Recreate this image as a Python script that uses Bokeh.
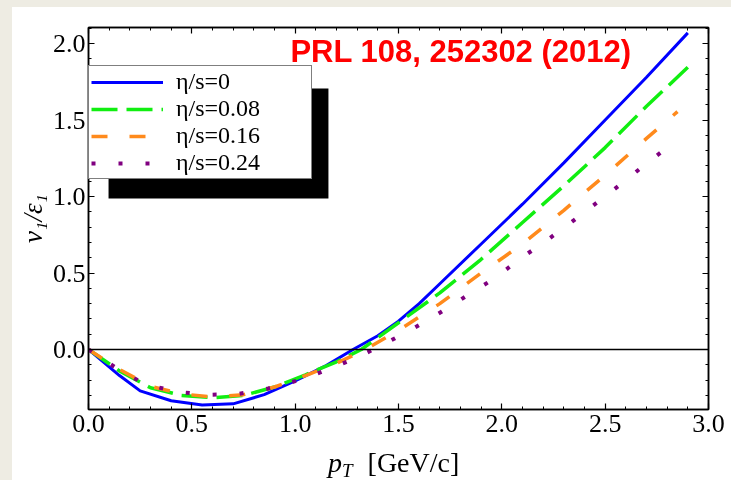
import numpy as np
from bokeh.plotting import figure
from bokeh.layouts import column
from bokeh.models import (Legend, LegendItem, Span, Label, BoxAnnotation, LinearAxis, Div,
                          SingleIntervalTicker, PrintfTickFormatter, CustomJSTickFormatter, Range1d)
from bokeh.embed import file_html
from bokeh.resources import INLINE

# ---- data ----
pt_eta0 = [0.0, 0.15, 0.25, 0.40, 0.55, 0.70, 0.85, 1.00, 1.15, 1.28, 1.40, 1.50, 1.60, 1.70, 1.90, 2.10, 2.30, 2.50, 2.70, 2.90]
v1_eta0 = [0.0, -0.17, -0.27, -0.335, -0.362, -0.355, -0.295, -0.205, -0.105, 0.0, 0.09, 0.185, 0.30, 0.43, 0.69, 0.95, 1.22, 1.50, 1.78, 2.07]

pt_eta008 = [0.0, 0.15, 0.30, 0.45, 0.60, 0.75, 0.90, 1.05, 1.20, 1.32, 1.50, 1.70, 1.90, 2.10, 2.30, 2.50, 2.70, 2.90]
v1_eta008 = [0.0, -0.14, -0.25, -0.30, -0.315, -0.30, -0.245, -0.165, -0.08, 0.0, 0.175, 0.37, 0.59, 0.83, 1.07, 1.32, 1.59, 1.845]

pt_eta016 = [0.0, 0.15, 0.30, 0.45, 0.60, 0.75, 0.90, 1.05, 1.20, 1.34, 1.50, 1.70, 1.90, 2.10, 2.30, 2.50, 2.70, 2.85]
v1_eta016 = [0.0, -0.13, -0.24, -0.29, -0.31, -0.295, -0.245, -0.17, -0.09, 0.0, 0.125, 0.30, 0.50, 0.69, 0.91, 1.14, 1.38, 1.555]

pt_eta024 = [0.0, 0.14, 0.27, 0.42, 0.575, 0.725, 0.87, 1.03, 1.17, 1.31, 1.445, 1.58, 1.71, 1.84, 1.97, 2.09, 2.216, 2.34, 2.46, 2.58, 2.70, 2.825]
v1_eta024 = [0.0, -0.126, -0.224, -0.275, -0.296, -0.29, -0.255, -0.196, -0.124, -0.046, 0.046, 0.144, 0.248, 0.36, 0.47, 0.595, 0.712, 0.836, 0.96, 1.085, 1.216, 1.346]

series_labels = ["η/s=0", "η/s=0.08", "η/s=0.16", "η/s=0.24"]
title_text = "PRL 108, 252302 (2012)"
x_range = (0.0, 3.0)
y_range = (-0.392, 2.105)

CREAM = "#EEECE3"
SERIF = "Liberation Serif"

p = figure(width=731, height=447, output_backend="svg", toolbar_location=None,
           x_range=Range1d(*x_range), y_range=Range1d(*y_range),
           min_border_left=88, min_border_right=23, min_border_top=27, min_border_bottom=38,
           background_fill_color="white", border_fill_alpha=0)
p.grid.visible = False
p.outline_line_color = "black"
p.outline_line_width = 1.5

p.add_layout(LinearAxis(), "above")
p.add_layout(LinearAxis(), "right")

for ax in p.axis:
    ax.ticker = SingleIntervalTicker(interval=0.5, num_minor_ticks=5)
    ax.axis_line_color = "black"
    ax.axis_line_width = 1.5
    ax.major_tick_line_color = "black"
    ax.minor_tick_line_color = "black"
    ax.major_tick_line_width = 1.2
    ax.minor_tick_line_width = 1.0
    ax.major_tick_in = 6
    ax.major_tick_out = 0
    ax.minor_tick_in = 3
    ax.minor_tick_out = 0
    ax.major_label_text_font = SERIF
    ax.major_label_text_font_size = "26px"
    ax.major_label_text_color = "black"
    ax.formatter = PrintfTickFormatter(format="%.1f")

p.above[0].formatter = CustomJSTickFormatter(code="return ''")
p.right[0].formatter = CustomJSTickFormatter(code="return ''")

p.xaxis[0].major_label_standoff = 7
p.yaxis[0].major_label_standoff = 3
p.yaxis[0].axis_label = "v₁/ε₁"
p.yaxis[0].axis_label_text_font = SERIF
p.yaxis[0].axis_label_text_font_style = "italic"
p.yaxis[0].axis_label_text_font_size = "27px"
p.yaxis[0].axis_label_text_color = "black"
p.yaxis[0].axis_label_standoff = 2

# zero line
p.add_layout(Span(location=0, dimension="width", line_color="black", line_width=1.5))

r0 = p.line(pt_eta0, v1_eta0, line_color="#0000FF", line_width=3)
r1 = p.line(pt_eta008, v1_eta008, line_color="#11EE11", line_width=3.5, line_dash="26 9")
r2 = p.line(pt_eta016, v1_eta016, line_color="#FF8A1C", line_width=3.5, line_dash="16 22")
r3 = p.line(pt_eta024, v1_eta024, line_color="#800080", line_width=4, line_dash="4 23")

# legend drop shadow (data coords computed from pixel layout)
p.add_layout(BoxAnnotation(left=0.097, right=1.161, top=1.706, bottom=0.987,
                           fill_color="black", fill_alpha=1, line_color=None))

legend = Legend(items=[LegendItem(label=l, renderers=[r]) for l, r in zip(series_labels, [r0, r1, r2, r3])],
                location=(0, 230), glyph_width=72, glyph_height=22, label_height=22,
                label_width=133, label_standoff=13, spacing=0, padding=2, margin=0,
                border_line_color="black", border_line_width=1.5, background_fill_alpha=1,
                label_text_font=SERIF, label_text_font_size="24px", label_text_color="black")
p.add_layout(legend)

p.add_layout(Label(x=0.977, y=1.945, text=title_text, text_font="Liberation Sans",
                   text_font_style="bold", text_color="red", text_font_size="31px",
                   text_baseline="alphabetic"))

# x-axis label: p_T [GeV/c]
xlabel = Div(text=('<div style="padding-left:328px;padding-top:1px;font-family:\'Liberation Serif\';'
                   'font-size:28px;line-height:30px;color:black;white-space:nowrap;">'
                   '<i>p</i><sub style="font-size:19px;vertical-align:-5px;line-height:0;"><i>T</i></sub>'
                   '<span style="margin-left:15px;">[GeV/c]</span></div>'),
             width=731, height=33, margin=0)

root = column(p, xlabel, spacing=0, margin=0)

html = file_html(root, INLINE)
css = ('<style>html{background:%s;} body{margin:0;padding:0;background:transparent;}'
       'body::before{content:"";position:fixed;left:12px;top:7px;right:0;bottom:0;'
       'background:#ffffff;z-index:-1;}</style>' % CREAM)
html = html.replace("</head>", css + "</head>", 1)
open("out.html", "w").write(html)
